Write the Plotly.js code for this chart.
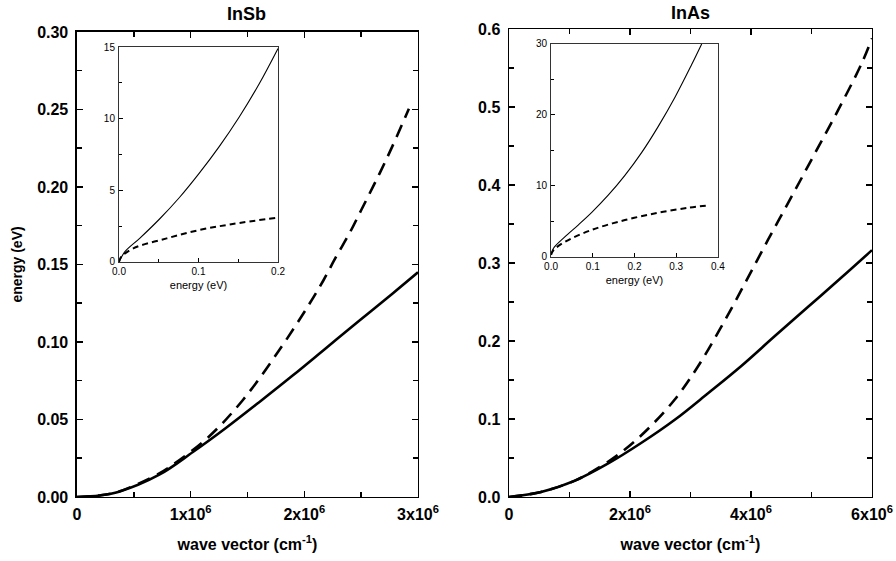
<!DOCTYPE html>
<html>
<head>
<meta charset="utf-8">
<script src="https://cdn.plot.ly/plotly-3.0.1.min.js"></script>
<style>html,body{margin:0;padding:0;background:#fff;}#chart{width:896px;height:561px;}</style>
</head>
<body>
<div id="chart"></div>
<script>
// ---- InSb main panel (wave vector in cm^-1, energy in eV)
const insbSolidK = [0, 2.0e5, 3.7e5, 7.2e5, 1.02e6, 1.31e6, 1.60e6, 1.90e6, 2.19e6, 2.48e6, 2.78e6, 3.0e6];
const insbSolidE = [0, 0.001, 0.0034, 0.0142, 0.0290, 0.0445, 0.0610, 0.0785, 0.0960, 0.1135, 0.1315, 0.1450];
const insbDashK = [0, 2.0e5, 3.7e5, 7.2e5, 8.4e5, 1.16e6, 1.46e6, 1.78e6, 2.04e6, 2.17e6, 2.28e6, 2.40e6, 2.50e6, 2.61e6, 2.71e6, 2.81e6, 2.92e6];
const insbDashE = [0, 0.001, 0.0035, 0.0150, 0.0206, 0.0389, 0.0626, 0.0948, 0.1240, 0.1400, 0.1550, 0.1705, 0.1850, 0.2010, 0.2160, 0.2320, 0.2505];

// ---- InAs main panel
const inasSolidK = [0, 5.3e5, 1.09e6, 1.64e6, 2.19e6, 2.74e6, 3.29e6, 3.84e6, 4.39e6, 4.94e6, 5.49e6, 6.0e6];
const inasSolidE = [0, 0.0064, 0.021, 0.043, 0.0695, 0.099, 0.133, 0.168, 0.206, 0.2435, 0.281, 0.3165];
const inasDashK = [0, 5.3e5, 1.09e6, 1.36e6, 1.80e6, 2.24e6, 2.74e6, 3.12e6, 3.51e6, 3.90e6, 4.28e6, 4.67e6, 5.05e6, 5.44e6, 5.83e6, 6.0e6];
const inasDashE = [0, 0.0065, 0.021, 0.032, 0.054, 0.0830, 0.1250, 0.167, 0.2183, 0.274, 0.3295, 0.385, 0.4397, 0.496, 0.556, 0.588];

// ---- InSb inset (x: energy in eV)
const insbInsetSolidX = [0, 0.0075, 0.026, 0.051, 0.076, 0.101, 0.126, 0.151, 0.176, 0.2];
const insbInsetSolidY = [0, 0.72, 1.65, 3.0, 4.5, 6.2, 8.05, 10.1, 12.4, 14.9];
const insbInsetDashX = [0, 0.003, 0.018, 0.06, 0.101, 0.143, 0.2];
const insbInsetDashY = [0, 0.37, 0.95, 1.65, 2.23, 2.65, 3.1];

// ---- InAs inset
const inasInsetSolidX = [0, 0.0055, 0.033, 0.065, 0.097, 0.137, 0.177, 0.217, 0.257, 0.297, 0.337, 0.361];
const inasInsetSolidY = [0.3, 1.2, 2.82, 4.5, 6.25, 8.7, 11.5, 14.7, 18.4, 22.5, 27.1, 30];
const inasInsetDashX = [0, 0.0055, 0.033, 0.097, 0.177, 0.257, 0.329, 0.381];
const inasInsetDashY = [0.3, 0.94, 2.13, 3.8, 5.2, 6.23, 6.93, 7.3];

// ---- tick labels
const insbKTicks = [0, 1e6, 2e6, 3e6];
const insbKText = ['0', '1x10<sup>6</sup>', '2x10<sup>6</sup>', '3x10<sup>6</sup>'];
const insbKMinor = [5e5, 1.5e6, 2.5e6];
const insbETicks = [0, 0.05, 0.10, 0.15, 0.20, 0.25, 0.30];
const insbEText = ['0.00', '0.05', '0.10', '0.15', '0.20', '0.25', '0.30'];
const insbEMinor = [0.025, 0.075, 0.125, 0.175, 0.225, 0.275];
const inasKTicks = [0, 2e6, 4e6, 6e6];
const inasKText = ['0', '2x10<sup>6</sup>', '4x10<sup>6</sup>', '6x10<sup>6</sup>'];
const inasKMinor = [1e6, 3e6, 5e6];
const inasETicks = [0, 0.1, 0.2, 0.3, 0.4, 0.5, 0.6];
const inasEText = ['0.0', '0.1', '0.2', '0.3', '0.4', '0.5', '0.6'];
const inasEMinor = [0.05, 0.15, 0.25, 0.35, 0.45, 0.55];

const FONT = 'Liberation Sans, Arial, Helvetica, sans-serif';
const boldTick = {family: FONT, size: 16, color: '#000', weight: 'bold'};

function mainX(domain, ticks, text, minor, range, anchor) {
  return {
    domain: domain, range: range, anchor: anchor,
    tickmode: 'array', tickvals: ticks, ticktext: text,
    ticks: 'inside', ticklen: 6, tickwidth: 1.5, tickcolor: '#000',
    minor: {tickmode: 'array', tickvals: minor, ticks: 'inside', ticklen: 5, tickwidth: 1.5, tickcolor: '#000'},
    showline: true, linecolor: '#000', linewidth: 1.5, mirror: 'ticks',
    showgrid: false, zeroline: false, tickfont: boldTick, ticklabelstandoff: 2,
    title: {text: '<b>wave vector (cm<sup>-1</sup>)</b>', font: {family: FONT, size: 16, color: '#000'}, standoff: 17}
  };
}
function mainY(domain, ticks, text, minor, range, anchor, title) {
  const ax = {
    domain: domain, range: range, anchor: anchor,
    tickmode: 'array', tickvals: ticks, ticktext: text,
    ticks: 'inside', ticklen: 6, tickwidth: 1.5, tickcolor: '#000',
    minor: {tickmode: 'array', tickvals: minor, ticks: 'inside', ticklen: 5, tickwidth: 1.5, tickcolor: '#000'},
    showline: true, linecolor: '#000', linewidth: 1.5, mirror: 'ticks',
    showgrid: false, zeroline: false, tickfont: boldTick, ticklabelstandoff: 4
  };
  if (title) ax.title = {text: '<b>' + title + '</b>', font: {family: FONT, size: 14, color: '#000'}, standoff: 11};
  return ax;
}
const insetFont = {family: FONT, size: 10, color: '#000'};
function insetX(domain, range, dtick, minorDtick, anchor) {
  const ax = {
    domain: domain, range: range, anchor: anchor, dtick: dtick, tick0: 0, tickformat: '.1f',
    ticks: 'inside', ticklen: 4, tickwidth: 1, tickcolor: '#000',
    showline: true, linecolor: '#333', linewidth: 1, mirror: true,
    showgrid: false, zeroline: false, tickfont: insetFont, ticklabelstandoff: 0,
    title: {text: 'energy (eV)', font: {family: FONT, size: 11, color: '#000'}, standoff: 5}
  };
  if (minorDtick) ax.minor = {dtick: minorDtick, ticks: 'inside', ticklen: 3, tickwidth: 1, tickcolor: '#000'};
  return ax;
}
function insetY(domain, range, dtick, minorDtick, anchor) {
  return {
    domain: domain, range: range, anchor: anchor, dtick: dtick, tick0: 0,
    ticks: 'inside', ticklen: 4, tickwidth: 1, tickcolor: '#000',
    minor: {dtick: minorDtick, ticks: 'inside', ticklen: 3, tickwidth: 1, tickcolor: '#000'},
    showline: true, linecolor: '#333', linewidth: 1, mirror: true,
    showgrid: false, zeroline: false, tickfont: insetFont, ticklabelstandoff: 1
  };
}

const solidMain = {color: '#000', width: 2.6, shape: 'spline'};
const dashMain = {color: '#000', width: 2.6, dash: '13px,8px', shape: 'spline'};
const solidInset = {color: '#000', width: 1.1, shape: 'spline'};
const dashInset = {color: '#000', width: 2, dash: '6px,4px', shape: 'spline'};

const data = [
  {x: insbSolidK, y: insbSolidE, xaxis: 'x', yaxis: 'y', mode: 'lines', line: solidMain, name: 'InSb solid'},
  {x: insbDashK, y: insbDashE, xaxis: 'x', yaxis: 'y', mode: 'lines', line: dashMain, name: 'InSb dashed'},
  {x: inasSolidK, y: inasSolidE, xaxis: 'x2', yaxis: 'y2', mode: 'lines', line: solidMain, name: 'InAs solid'},
  {x: inasDashK, y: inasDashE, xaxis: 'x2', yaxis: 'y2', mode: 'lines', line: dashMain, name: 'InAs dashed'},
  {x: insbInsetSolidX, y: insbInsetSolidY, xaxis: 'x3', yaxis: 'y3', mode: 'lines', line: solidInset, name: 'InSb inset solid'},
  {x: insbInsetDashX, y: insbInsetDashY, xaxis: 'x3', yaxis: 'y3', mode: 'lines', line: dashInset, name: 'InSb inset dashed'},
  {x: inasInsetSolidX, y: inasInsetSolidY, xaxis: 'x4', yaxis: 'y4', mode: 'lines', line: solidInset, name: 'InAs inset solid'},
  {x: inasInsetDashX, y: inasInsetDashY, xaxis: 'x4', yaxis: 'y4', mode: 'lines', line: dashInset, name: 'InAs inset dashed'}
];

const layout = {
  width: 896, height: 561,
  margin: {l: 0, r: 0, t: 0, b: 0},
  paper_bgcolor: '#fff', plot_bgcolor: '#fff',
  showlegend: false,
  font: {family: FONT, color: '#000'},
  xaxis: mainX([0.0859, 0.4665], insbKTicks, insbKText, insbKMinor, [0, 3e6], 'y'),
  yaxis: mainY([0.1141, 0.943], insbETicks, insbEText, insbEMinor, [0, 0.30], 'x', 'energy (eV)'),
  xaxis2: mainX([0.5681, 0.9732], inasKTicks, inasKText, inasKMinor, [0, 6e6], 'y2'),
  yaxis2: mainY([0.1141, 0.9483], inasETicks, inasEText, inasEMinor, [0, 0.6], 'x2', null),
  xaxis3: insetX([0.1328, 0.3103], [0, 0.2], 0.1, 0.05, 'y3'),
  yaxis3: insetY([0.533, 0.9162], [0, 15], 5, 2.5, 'x3'),
  xaxis4: insetX([0.615, 0.8013], [0, 0.4], 0.1, null, 'y4'),
  yaxis4: insetY([0.5419, 0.9216], [0, 30], 10, 5, 'x4'),
  annotations: [
    {text: '<b>InSb</b>', x: 246, y: 14, xref: 'paper', yref: 'paper', showarrow: false,
     font: {family: FONT, size: 18, color: '#000'}},
    {text: '<b>InAs</b>', x: 690, y: 13, xref: 'paper', yref: 'paper', showarrow: false,
     font: {family: FONT, size: 18, color: '#000'}}
  ]
};
// convert pixel positions of panel titles into paper fractions
layout.annotations.forEach(a => { a.x = a.x / 896; a.y = 1 - a.y / 561; a.xanchor = 'center'; a.yanchor = 'middle'; });

Plotly.newPlot('chart', data, layout, {staticPlot: true, displayModeBar: false});
</script>
</body>
</html>
